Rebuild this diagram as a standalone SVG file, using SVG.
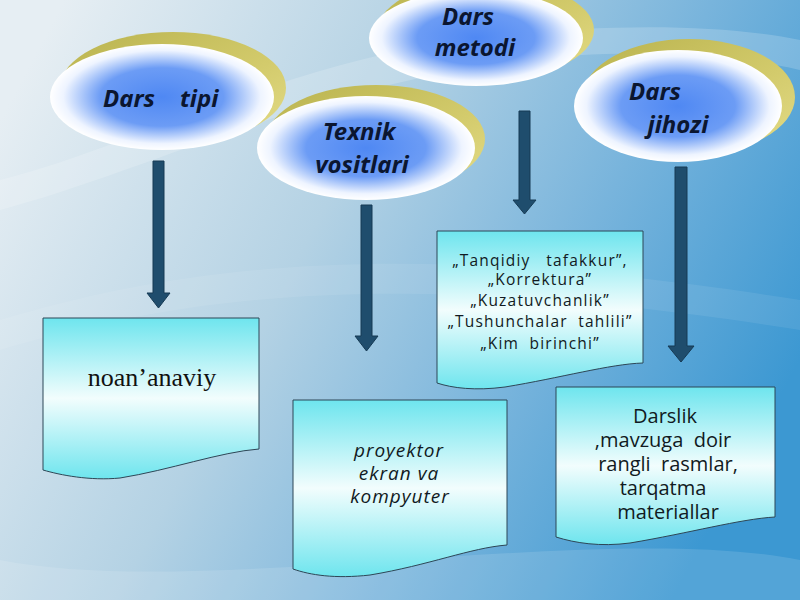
<svg xmlns="http://www.w3.org/2000/svg" width="800" height="600" viewBox="0 0 800 600">
<defs>
<linearGradient id="bg" x1="0" y1="0.2" x2="1" y2="0.6">
<stop offset="0" stop-color="#e6eef3"/>
<stop offset="0.4" stop-color="#b4d2e4"/>
<stop offset="0.7" stop-color="#78b4dc"/>
<stop offset="1" stop-color="#3c98d2"/>
</linearGradient>
<radialGradient id="oval" cx="0.5" cy="0.5" r="0.5">
<stop offset="0" stop-color="#4f88f3"/>
<stop offset="0.55" stop-color="#6c9cf5"/>
<stop offset="0.88" stop-color="#eef4ff"/>
<stop offset="1" stop-color="#ffffff"/>
</radialGradient>
<linearGradient id="gold" x1="0" y1="0" x2="1" y2="1">
<stop offset="0" stop-color="#b9b34e"/>
<stop offset="0.6" stop-color="#d3cb6c"/>
<stop offset="1" stop-color="#e4dc88"/>
</linearGradient>
<linearGradient id="doc" x1="0" y1="0" x2="0" y2="1">
<stop offset="0" stop-color="#6ee5ee"/>
<stop offset="0.5" stop-color="#f2fdfd"/>
<stop offset="1" stop-color="#6ee5ee"/>
</linearGradient>
<style>
.rim{fill:url(#gold)}
.oval{fill:url(#oval)}
.ot{font-family:"Noto Sans","Open Sans","DejaVu Sans",sans-serif;font-weight:700;font-style:italic;font-size:24px;fill:#0b1630}
.doc{fill:url(#doc);stroke:#2d4656;stroke-width:1}
.arrow{fill:#1f4d6d;stroke:#163a54;stroke-width:1}
.st{font-family:"Open Sans","Noto Sans","DejaVu Sans",sans-serif;fill:#111a22;text-anchor:middle}
</style>
</defs>
<rect width="800" height="600" fill="url(#bg)"/>
<path d="M0 210 C 150 170 300 90 520 60 C 650 45 760 60 800 70 L 800 40 C 700 20 560 25 430 45 C 260 75 120 150 0 180 Z" fill="#ffffff" opacity="0.18"/>
<path d="M0 320 C 200 260 420 240 800 300 L 800 330 C 420 270 200 290 0 350 Z" fill="#ffffff" opacity="0.08"/>
<path d="M0 560 C 200 600 600 520 800 560 L 800 600 L 0 600 Z" fill="#ffffff" opacity="0.12"/>

<g id="node-dars-tipi">
<ellipse class="rim" cx="173" cy="88" rx="113" ry="56"/>
<ellipse class="oval" cx="162" cy="97" rx="112" ry="53"/>
<text class="ot" x="103" y="107">Dars</text>
<text class="ot" x="180" y="107">tipi</text>
</g>
<g id="node-texnik">
<ellipse class="rim" cx="376" cy="139" rx="109" ry="54"/>
<ellipse class="oval" cx="366" cy="148" rx="109" ry="52"/>
<text class="ot" x="359" y="140" text-anchor="middle">Texnik</text>
<text class="ot" x="362" y="173" text-anchor="middle">vositlari</text>
</g>
<g id="node-metodi">
<ellipse class="rim" cx="486" cy="30" rx="108" ry="50"/>
<ellipse class="oval" cx="476" cy="38" rx="107" ry="48"/>
<text class="ot" x="468" y="25" text-anchor="middle">Dars</text>
<text class="ot" x="475" y="56" text-anchor="middle">metodi</text>
</g>
<g id="node-jihozi">
<ellipse class="rim" cx="689" cy="97" rx="106" ry="58"/>
<ellipse class="oval" cx="678" cy="106" rx="104" ry="56"/>
<text class="ot" x="655" y="100" text-anchor="middle">Dars</text>
<text class="ot" x="678" y="133" text-anchor="middle">jihozi</text>
</g>

<g id="connectors">
<path class="arrow" d="M153 161 H164 V293 H170 L158.5 308 L147 293 H153 Z"/>
<path class="arrow" d="M361 205 H372 V336 H378 L366.5 351 L355 336 H361 Z"/>
<path class="arrow" d="M519 111 H530 V200 H536 L524.5 214 L513 200 H519 Z"/>
<path class="arrow" d="M675 167 H687 V346 H694 L681 362 L668 346 H675 Z"/>
</g>

<g id="box-noananaviy">
<path class="doc" d="M43 318 H259 V449 C 220 452 170 470 120 478 C 90 481 60 475 43 470 Z"/>
<text x="152" y="386" font-family="Liberation Serif,serif" font-size="26" fill="#111" text-anchor="middle">noan’anaviy</text>
</g>
<g id="box-proyektor">
<path class="doc" d="M293 400 H507 V545 C 470 548 430 565 370 575 C 335 579 310 575 293 569 Z"/>
<g class="st" font-size="19" font-style="italic" letter-spacing="1" fill="#1b2a40">
<text x="399" y="457">proyektor</text>
<text x="399" y="480">ekran va</text>
<text x="400" y="503">kompyuter</text>
</g>
</g>
<g id="box-metodi">
<path class="doc" d="M437 231 H643 V363 C 610 364 560 378 505 387 C 475 391 452 388 437 383 Z"/>
<g class="st" font-size="15.5" letter-spacing="1.2">
<text x="540" y="266">„Tanqidiy &#160; tafakkur”,</text>
<text x="540" y="285">„Korrektura”</text>
<text x="540" y="306">„Kuzatuvchanlik”</text>
<text x="540" y="327">„Tushunchalar &#160;tahlili”</text>
<text x="540" y="349">„Kim &#160;birinchi”</text>
</g>
</g>
<g id="box-jihozi">
<path class="doc" d="M556 387 H775 V517 C 740 519 690 533 630 543 C 600 547 575 543 556 537 Z"/>
<g class="st" font-size="20">
<text x="665" y="423">Darslik</text>
<text x="663" y="447">,mavzuga &#160;doir</text>
<text x="668" y="471">rangli &#160;rasmlar,</text>
<text x="663" y="495">tarqatma</text>
<text x="668" y="519">materiallar</text>
</g>
</g>
</svg>
